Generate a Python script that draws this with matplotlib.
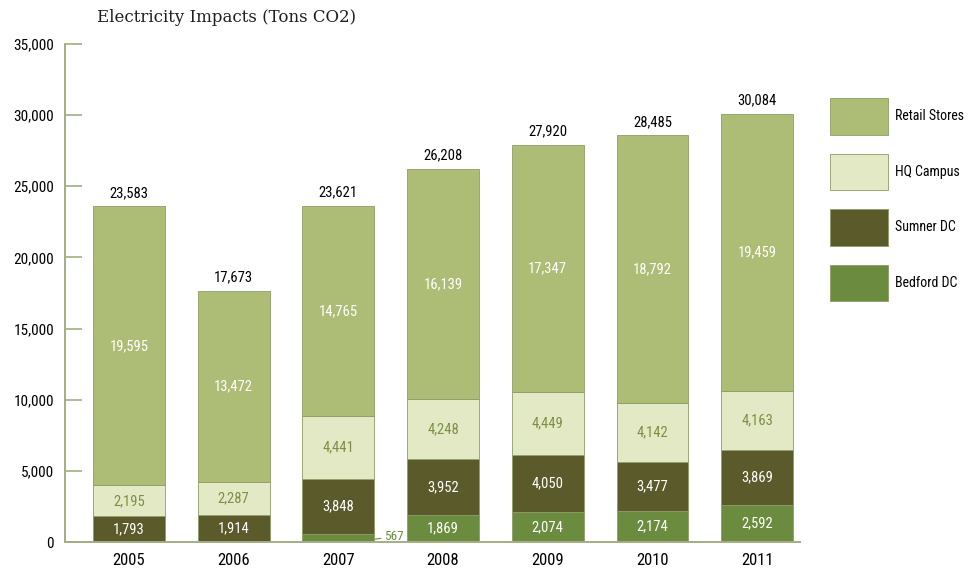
import matplotlib
matplotlib.use('Agg')
import matplotlib.pyplot as plt
from matplotlib.patches import Patch

# electricity impacts by site, tons CO2
years = ['2005', '2006', '2007', '2008', '2009', '2010', '2011']
bedford_dc = [0, 0, 567, 1869, 2074, 2174, 2592]
sumner_dc = [1793, 1914, 3848, 3952, 4050, 3477, 3869]
hq_campus = [2195, 2287, 4441, 4248, 4449, 4142, 4163]
retail_stores = [19595, 13472, 14765, 16139, 17347, 18792, 19459]
totals = [23583, 17673, 23621, 26208, 27920, 28485, 30084]

C_RETAIL = '#adbd76'
C_HQ = '#e3e9c5'
C_SUMNER = '#5b5a2b'
C_BEDFORD = '#6b8c3f'
C_EDGE = '#8f9c66'
C_AXIS = '#a3ae84'

FONT = ['Roboto Condensed', 'Liberation Sans Narrow', 'Roboto', 'DejaVu Sans']

fig = plt.figure(figsize=(9.77, 5.73), dpi=100)
ax = fig.add_axes([65 / 977, 31 / 573, (800 - 65) / 977, (542 - 44) / 573])

x = list(range(len(years)))
w = 0.685
bottoms = [0] * len(years)
series = [
    (bedford_dc, C_BEDFORD, 'Bedford DC', 'white'),
    (sumner_dc, C_SUMNER, 'Sumner DC', 'white'),
    (hq_campus, C_HQ, 'HQ Campus', '#7d8f45'),
    (retail_stores, C_RETAIL, 'Retail Stores', 'white'),
]
for vals, col, name, tcol in series:
    ax.bar(x, vals, w, bottom=bottoms, color=col, edgecolor=C_EDGE, linewidth=0.6)
    for i, v in enumerate(vals):
        if v >= 1000:
            ax.text(x[i], bottoms[i] + v / 2, f'{v:,}', ha='center', va='center',
                    color=tcol, fontsize=10.5, family=FONT)
    bottoms = [b + v for b, v in zip(bottoms, vals)]

# small Bedford value in 2007 sits beside the bar
i07 = years.index('2007')
ax.annotate(f'{bedford_dc[i07]:,}', xy=(x[i07] + w / 2 + 0.01, bedford_dc[i07] / 2 - 80),
            xytext=(x[i07] + w / 2 + 0.09, bedford_dc[i07] / 2 + 100),
            ha='left', va='center', color=C_BEDFORD, fontsize=9.5, family=FONT,
            arrowprops=dict(arrowstyle='-', color=C_BEDFORD, lw=0.8, shrinkA=0, shrinkB=0))

for i, t in enumerate(totals):
    ax.text(x[i], bottoms[i] + 450, f'{t:,}', ha='center', va='bottom',
            color='black', fontsize=10.5, family=FONT)

ax.set_xlim(-0.611, 6.41)
ax.set_ylim(0, 35000)
ax.set_yticks(range(0, 35001, 5000))
ax.set_yticklabels([f'{v:,}' for v in range(0, 35001, 5000)], family=FONT, fontsize=11)
ax.set_xticks(x)
ax.set_xticklabels(years, family=FONT, fontsize=12)
ax.tick_params(axis='y', direction='in', length=12, color=C_AXIS, width=1.2, pad=8)
ax.tick_params(axis='x', length=0, pad=8)
for s in ['top', 'right']:
    ax.spines[s].set_visible(False)
for s in ['left', 'bottom']:
    ax.spines[s].set_color(C_AXIS)
    ax.spines[s].set_linewidth(1.4)

fig.text(97 / 977, 1 - 17 / 573, 'Electricity Impacts (Tons CO2)', ha='left', va='center',
         family=['DejaVu Serif'], fontsize=12, color='#1e1e1e')

handles = [Patch(facecolor=col, edgecolor=C_EDGE, linewidth=0.6, label=name)
           for _, col, name, _ in reversed(series)]
fig.legend(handles=handles, loc='upper left', bbox_to_anchor=(830 / 977, 1 - 98 / 573),
           frameon=False, borderpad=0, handlelength=4.2, handleheight=3.7,
           labelspacing=1.35, handletextpad=0.5, borderaxespad=0,
           prop={'family': FONT, 'size': 10})

fig.savefig('out.png', dpi=100)
